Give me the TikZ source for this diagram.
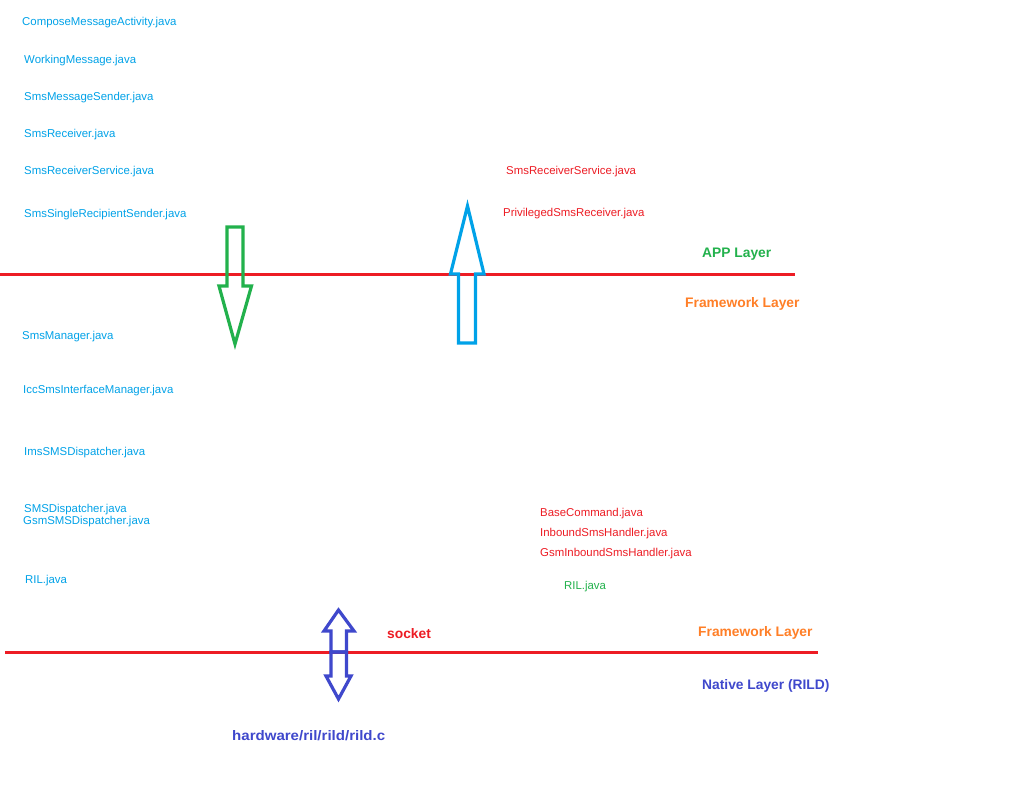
\documentclass[tikz,border=0pt]{standalone}
\usepackage{fontspec}
\setmainfont{Liberation Sans}
\definecolor{cblue}{RGB}{0,162,232}
\definecolor{cred}{RGB}{237,28,36}
\definecolor{cgreen}{RGB}{34,177,76}
\definecolor{corange}{RGB}{255,127,39}
\definecolor{cindigo}{RGB}{63,72,204}
\tikzset{
  file/.style={anchor=base west, inner sep=0pt, font=\fontsize{11.4}{13}\selectfont},
  bluefile/.style={file, text=cblue},
  redfile/.style={file, text=cred},
  layer/.style={anchor=base west, inner sep=0pt, font=\fontsize{13.8}{16}\selectfont\bfseries},
  divider/.style={draw=cred, line width=3pt},
  bigarrow/.style={line width=3.2pt, line join=miter},
}
\begin{document}
\begin{tikzpicture}[x=1pt, y=-1pt]
\useasboundingbox[fill=white] (0,0) rectangle (1021,809);
% dividers
\coordinate (l1a) at (0,274); \coordinate (l1b) at (795,274);
\coordinate (l2a) at (5,652); \coordinate (l2b) at (818,652);
\draw[divider] (l1a) -- (l1b);
\draw[divider] (l2a) -- (l2b);
% left column (blue)
\node[bluefile] (cma) at (22,25) {ComposeMessageActivity.java};
\node[bluefile] (wm) at (24,63) {WorkingMessage.java};
\node[bluefile] (sms) at (24,100) {SmsMessageSender.java};
\node[bluefile] (sr) at (24,137) {SmsReceiver.java};
\node[bluefile] (srs) at (24,174) {SmsReceiverService.java};
\node[bluefile] (ssrs) at (24,217) {SmsSingleRecipientSender.java};
\node[bluefile] (smgr) at (22,339) {SmsManager.java};
\node[bluefile] (icc) at (23,393) {IccSmsInterfaceManager.java};
\node[bluefile] (ims) at (24,455) {ImsSMSDispatcher.java};
\node[bluefile] (smsd) at (24,512) {SMSDispatcher.java};
\node[bluefile] (gsmd) at (23,524) {GsmSMSDispatcher.java};
\node[bluefile] (ril) at (25,583) {RIL.java};
% right column (red)
\node[redfile] (rsrs) at (506,174) {SmsReceiverService.java};
\node[redfile] (psr) at (503,216) {PrivilegedSmsReceiver.java};
\node[redfile] (bc) at (540,516) {BaseCommand.java};
\node[redfile] (ish) at (540,536) {InboundSmsHandler.java};
\node[redfile] (gish) at (540,556) {GsmInboundSmsHandler.java};
\node[file, text=cgreen] (ril2) at (564,589) {RIL.java};
% layer labels
\node[layer, text=cgreen] (app) at (702,257) {APP Layer};
\node[layer, text=corange] (fw1) at (685,307) {Framework Layer};
\node[layer, text=corange] (fw2) at (698,636) {Framework Layer};
\node[layer, text=cindigo] (nat) at (702,689) {Native Layer (RILD)};
\node[layer, text=cred] (sock) at (387,638) {socket};
\node[layer, text=cindigo, xscale=1.09, transform shape] (rild) at (232,740) {hardware/ril/rild/rild.c};
% green down arrow
\draw[bigarrow, draw=cgreen] (227,227) -- (243,227) -- (243,286) -- (251.5,286) -- (235,344) -- (219,286) -- (227,286) -- cycle;
% blue up arrow
\draw[bigarrow, draw=cblue] (458.5,343) -- (475.5,343) -- (475.5,274) -- (484,274) -- (467.5,206) -- (450.5,274) -- (458.5,274) -- cycle;
% double arrow (indigo)
\draw[bigarrow, draw=cindigo] (331,652) -- (346.5,652) -- (346.5,631) -- (354,631) -- (338.5,610) -- (324,631) -- (331,631) -- cycle;
\draw[bigarrow, draw=cindigo] (331,652) -- (346.5,652) -- (346.5,676) -- (351,676) -- (338.5,699) -- (326,676) -- (331,676) -- cycle;
\end{tikzpicture}
\end{document}
